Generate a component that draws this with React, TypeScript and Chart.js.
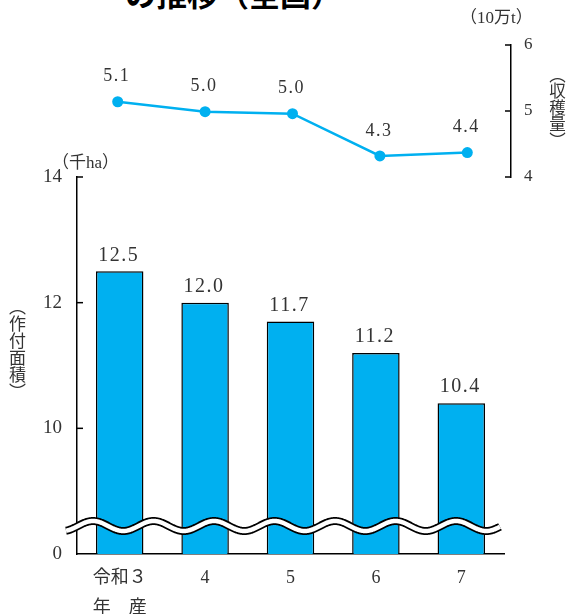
import React, { useEffect, useRef } from 'react';
import { Chart, registerables } from 'chart.js';

Chart.register(...registerables);

// ---- data ----
const categories: (string | string[])[] = [['令和３', '年　産'], '4', '5', '6', '7'];
const areaValues = [12.5, 12.0, 11.7, 11.2, 10.4]; // 作付面積 (千ha)
const harvestValues = [5.14, 4.99, 4.96, 4.32, 4.37]; // 収穫量 (10万t)
const areaAxis = { min: 8, max: 14, step: 2 }; // lower part compressed (broken axis)
const areaBreakTickLabel = '0';
const harvestAxis = { min: 4, max: 6, step: 1 };
const titleText = 'の推移（全国）';
const areaUnit = '（千ha）';
const harvestUnit = '（10万t）';
const areaTitle = '（作付面積）';
const harvestTitle = '（収穫量）';

// ---- styles ----
const BLUE = '#00b0f0';
const SERIF = '"Liberation Serif", "Noto Sans CJK JP", serif';
const CJK = '"Noto Sans CJK JP", sans-serif';
const W = 568;
const H = 614;

const valueLabelPlugin = {
  id: 'valueLabels',
  afterDatasetsDraw(chart: any, _a: any, o: any) {
    const ctx = chart.ctx;
    const meta = chart.getDatasetMeta(0);
    const data = chart.data.datasets[0].data as number[];
    ctx.save();
    ctx.font = `${o.size}px ${SERIF}`;
    (ctx as any).letterSpacing = `${o.spacing}px`;
    ctx.fillStyle = '#333';
    ctx.textAlign = 'center';
    ctx.textBaseline = 'middle';
    meta.data.forEach((el: any, i: number) => {
      ctx.fillText(data[i].toFixed(1), el.x + o.dx, el.y - o.offset);
    });
    ctx.restore();
  },
};

const innerTicksPlugin = {
  id: 'innerTicks',
  afterDraw(chart: any, _a: any, o: any) {
    const scale = chart.scales[o.axis];
    const ctx = chart.ctx;
    ctx.save();
    ctx.strokeStyle = '#000';
    ctx.lineWidth = 1.5;
    scale.ticks.forEach((t: any) => {
      if (o.skip && o.skip.includes(t.value)) return;
      const y = scale.getPixelForValue(t.value);
      const x0 = o.dir > 0 ? scale.right : scale.left;
      ctx.beginPath();
      ctx.moveTo(x0, y);
      ctx.lineTo(x0 + o.dir * o.len, y);
      ctx.stroke();
    });
    ctx.restore();
  },
};

const breakWavePlugin = {
  id: 'breakWave',
  afterDraw(chart: any, _a: any, o: any) {
    const { ctx, chartArea } = chart;
    const crest = chartArea.left + o.crestOffset;
    const yc = chartArea.bottom - o.offset;
    const x0 = chartArea.left - o.leftExtend;
    const x1 = chartArea.right - o.rightInset;
    ctx.save();
    ctx.beginPath();
    for (let x = x0; x <= x1; x += 0.5) {
      const y = yc - o.amp * Math.cos((2 * Math.PI * (x - crest)) / o.period);
      if (x === x0) ctx.moveTo(x, y);
      else ctx.lineTo(x, y);
    }
    ctx.lineCap = 'butt';
    ctx.lineJoin = 'round';
    ctx.strokeStyle = '#000';
    ctx.lineWidth = 8;
    ctx.stroke();
    ctx.strokeStyle = '#fff';
    ctx.lineWidth = 4.5;
    ctx.stroke();
    ctx.restore();
  },
};

export default function App() {
  const barRef = useRef<HTMLCanvasElement>(null);
  const lineRef = useRef<HTMLCanvasElement>(null);

  useEffect(() => {
    const barChart = new Chart(barRef.current as HTMLCanvasElement, {
      type: 'bar',
      data: {
        labels: categories,
        datasets: [
          {
            data: areaValues,
            backgroundColor: BLUE,
            borderColor: '#000',
            borderWidth: 1.5,
            barPercentage: 0.556,
            categoryPercentage: 1,
          },
        ],
      },
      options: {
        responsive: false,
        animation: false,
        events: [],
        layout: { padding: { top: 177, right: 64, left: 0, bottom: 0 } },
        plugins: {
          legend: { display: false },
          tooltip: { enabled: false },
          title: { display: false },
          valueLabels: { size: 20, spacing: 1.5, dx: -1, offset: 16 },
          innerTicks: { axis: 'y', dir: 1, len: 6, skip: [areaAxis.min] },
          breakWave: { offset: 28, amp: 5, period: 60.5, crestOffset: 16, leftExtend: 11, rightInset: 4 },
        } as any,
        scales: {
          x: {
            grid: { display: false, drawTicks: false },
            border: { display: true, color: '#000', width: 1.5 },
            ticks: {
              color: '#333',
              padding: 9.5,
              maxRotation: 0,
              autoSkip: false,
              font: { family: SERIF, size: 18, lineHeight: 1.64 },
            },
            afterFit: (s: any) => {
              s.height = 60;
            },
          },
          y: {
            min: areaAxis.min,
            max: areaAxis.max,
            grid: { display: false, drawTicks: false },
            border: { display: true, color: '#000', width: 1.5 },
            ticks: {
              stepSize: areaAxis.step,
              color: '#333',
              padding: 15,
              font: { family: SERIF, size: 19 },
              callback: (v: any) => (v === areaAxis.min ? areaBreakTickLabel : String(v)),
            },
            afterFit: (s: any) => {
              s.width = 77;
            },
          },
        },
      },
      plugins: [valueLabelPlugin, innerTicksPlugin, breakWavePlugin],
    });

    const lineChart = new Chart(lineRef.current as HTMLCanvasElement, {
      type: 'line',
      data: {
        labels: categories,
        datasets: [
          {
            data: harvestValues,
            borderColor: BLUE,
            backgroundColor: BLUE,
            borderWidth: 2.5,
            pointRadius: 5.5,
            pointBorderWidth: 0,
            pointBackgroundColor: BLUE,
            tension: 0,
            fill: false,
          },
        ],
      },
      options: {
        responsive: false,
        animation: false,
        events: [],
        layout: { padding: { top: 45, right: 0, left: 74, bottom: H - 177 } },
        plugins: {
          legend: { display: false },
          tooltip: { enabled: false },
          title: { display: false },
          valueLabels: { size: 18, spacing: 1.5, dx: -1, offset: 25 },
          innerTicks: { axis: 'y', dir: -1, len: 6 },
        } as any,
        scales: {
          x: { display: false, offset: true },
          y: {
            position: 'right',
            min: harvestAxis.min,
            max: harvestAxis.max,
            grid: { display: false, drawTicks: false },
            border: { display: true, color: '#000', width: 1.5 },
            ticks: {
              stepSize: harvestAxis.step,
              color: '#333',
              padding: 13,
              font: { family: SERIF, size: 17 },
            },
            afterFit: (s: any) => {
              s.width = W - 511;
            },
          },
        },
      },
      plugins: [valueLabelPlugin, innerTicksPlugin],
    });

    return () => {
      barChart.destroy();
      lineChart.destroy();
    };
  }, []);

  const abs: React.CSSProperties = { position: 'absolute', left: 0, top: 0 };
  return (
    <div style={{ position: 'absolute', left: 0, top: 0, width: W, height: H, overflow: 'hidden', background: '#fff' }}>
      <div
        style={{
          position: 'absolute',
          left: 125,
          top: -22,
          fontFamily: CJK,
          fontWeight: 'bold',
          fontSize: 31,
          lineHeight: '30px',
          whiteSpace: 'nowrap',
          color: '#000',
        }}
      >
        {titleText}
      </div>
      <canvas ref={barRef} width={W} height={H} style={{ ...abs, width: W, height: H }} />
      <canvas ref={lineRef} width={W} height={H} style={{ ...abs, width: W, height: H }} />
      <div
        style={{
          position: 'absolute',
          left: 460,
          top: 8,
          fontFamily: SERIF,
          fontSize: 17,
          lineHeight: '20px',
          whiteSpace: 'nowrap',
          color: '#333',
        }}
      >
        {harvestUnit}
      </div>
      <div
        style={{
          position: 'absolute',
          left: 52,
          top: 153,
          fontFamily: SERIF,
          fontSize: 17,
          lineHeight: '20px',
          whiteSpace: 'nowrap',
          color: '#333',
        }}
      >
        {areaUnit}
      </div>
      <div
        style={{
          position: 'absolute',
          left: 9,
          top: 298,
          writingMode: 'vertical-rl',
          fontFamily: CJK,
          fontSize: 17,
          lineHeight: '17px',
          whiteSpace: 'nowrap',
          color: '#333',
        }}
      >
        {areaTitle}
      </div>
      <div
        style={{
          position: 'absolute',
          left: 549,
          top: 66,
          writingMode: 'vertical-rl',
          fontFamily: CJK,
          fontSize: 16.5,
          lineHeight: '16.5px',
          whiteSpace: 'nowrap',
          color: '#333',
        }}
      >
        {harvestTitle}
      </div>
    </div>
  );
}
